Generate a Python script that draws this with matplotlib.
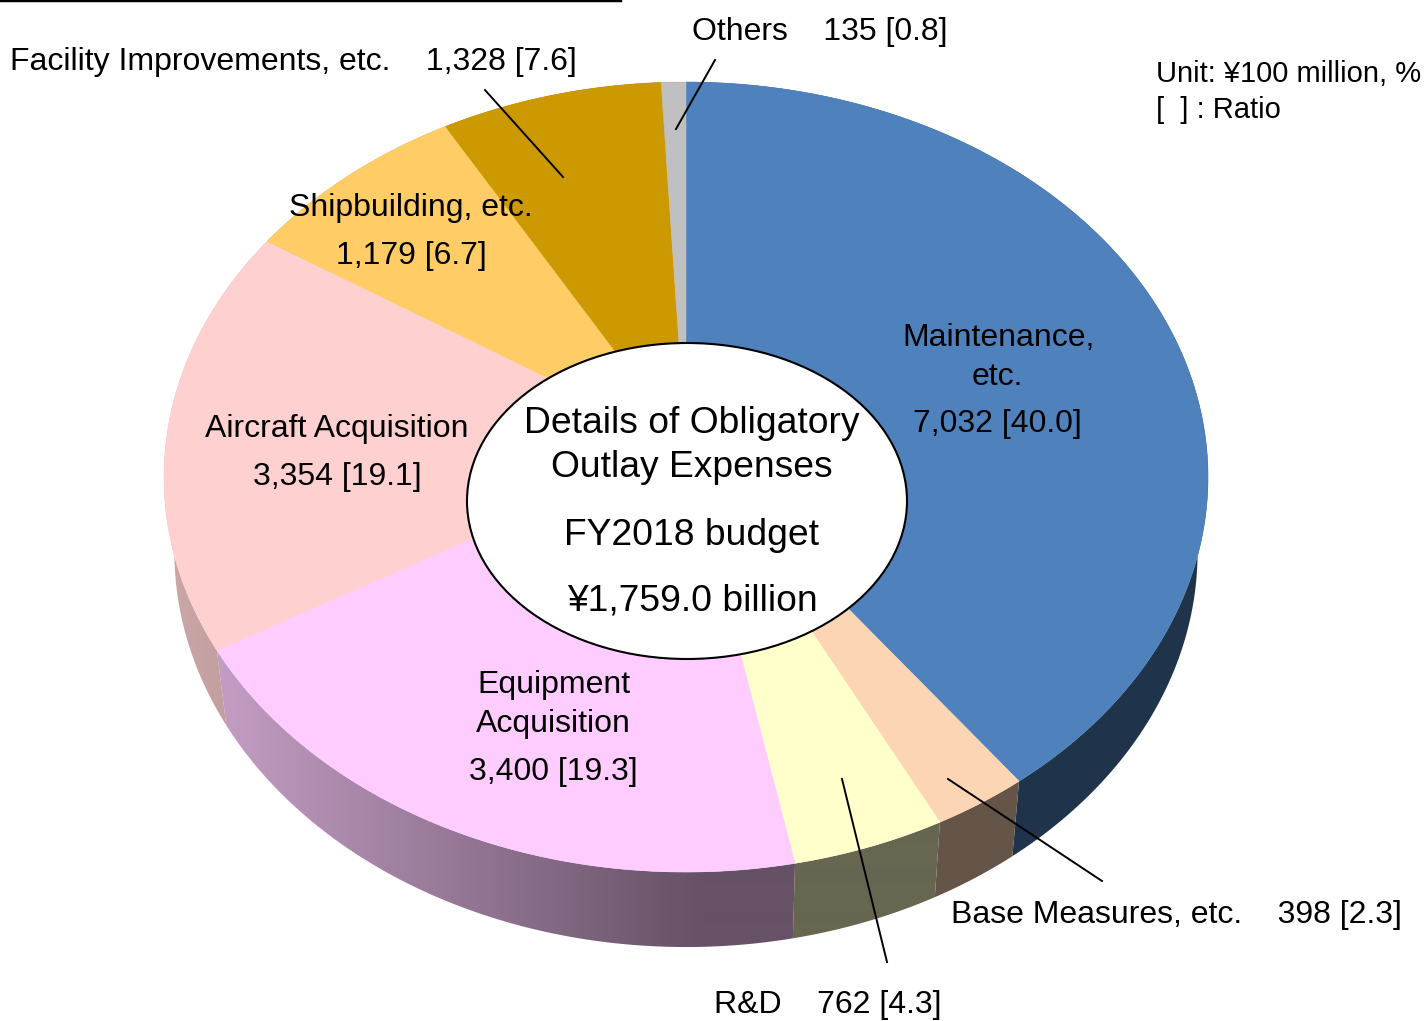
import numpy as np
import matplotlib
matplotlib.use('Agg')
import matplotlib.pyplot as plt
from matplotlib.patches import Polygon, Ellipse

plt.rcParams['font.family']=['Liberation Sans','DejaVu Sans']

#data, clockwise from the top
categories=['Maintenance, etc.','Base Measures, etc.','R&D','Equipment Acquisition','Aircraft Acquisition','Shipbuilding, etc.','Facility Improvements, etc.','Others']
values=[7032,398,762,3400,3354,1179,1328,135]
ratios=[40.0,2.3,4.3,19.3,19.1,6.7,7.6,0.8]
colors=['#4f81bd','#fcd5b5','#ffffcc','#ffccff','#ffd0d0','#ffcc66','#cc9900','#c0c0c0']

W,H=1427,1021
#projection of the disc
cx,cy=686,445
A,B,k=520.3,392.4,0.0811
depth=75
#the slices in the picture are not exactly to scale, degrees per boundary
edge_nudge=[0,-0.7,1.0,1.2,2.6,-3.1,0.3,-0.2,0]

def top(theta,r=1.0):
    w=1+k*np.cos(theta)
    return cx+r*A*np.sin(theta)/w, cy-r*B*np.cos(theta)/w

def bottom(theta):
    x,y=top(theta)
    return cx+0.98*(x-cx), y+depth

fig=plt.figure(figsize=(W/100,H/100),dpi=100)
ax=fig.add_axes([0,0,1,1])

edges=np.concatenate([[0],np.cumsum(values)])/np.sum(values)*2*np.pi+np.radians(edge_nudge)

#side gets darker going right, flat after the middle
xs=np.arange(W)
light=np.interp(xs,[170,230,700,1300],[0.80,0.76,0.40,0.40])

#side wall, a gradient clipped to each slice
for i in range(len(values)):
    th=np.linspace(edges[i],edges[i+1],200)
    x0,y0=top(th)
    x1,y1=bottom(th)
    poly=Polygon(list(zip(x0,y0))+list(zip(x1[::-1],y1[::-1])),closed=True,fc='none',ec='none',transform=ax.transData)
    ax.add_patch(poly)
    img=np.outer(light,np.array(matplotlib.colors.to_rgb(colors[i])))[None,:,:]
    im=ax.imshow(img,extent=(0,W,H,0),aspect='auto',interpolation='bilinear',zorder=1)
    im.set_clip_path(poly)

ax.set_xlim(0,W)
ax.set_ylim(H,0)
ax.axis('off')

#top face
for i in range(len(values)):
    th=np.linspace(edges[i],edges[i+1],200)
    x,y=top(th)
    pts=[(cx,cy)]+list(zip(x,y))
    ax.add_patch(Polygon(pts,closed=True,fc=colors[i],ec=colors[i],lw=0.4,zorder=2))

#centre hole
ax.add_patch(Ellipse((687,501),440,316,fc='white',ec='black',lw=1.5,zorder=3))

#leader lines
leaders=[((485,90),(563,177)),((715,60),(676,129)),((948,779),(1102,881)),((842,779),(887,962))]
for p,q in leaders:
    ax.plot([p[0],q[0]],[p[1],q[1]],color='black',lw=1.4,zorder=4)
ax.plot([0,620],[0,0],color='black',lw=2.5,zorder=4)

def label(x,y,s,size=23.0):
    ax.text(x,y+2,s,fontsize=size,ha='center',va='center',color='black',zorder=5)

def amount(i):
    return f'{values[i]:,} [{ratios[i]:.1f}]'

label(999,336,'Maintenance,')
label(997,375,'etc.')
label(997,422,amount(0))
label(1176,913,'Base Measures, etc.    '+amount(1))
label(827.5,1003,'R&D    '+amount(2))
label(554,683,'Equipment')
label(553,722,'Acquisition')
label(553,770,amount(3))
label(337,427,'Aircraft Acquisition')
label(337,475,amount(4))
label(411,206,'Shipbuilding, etc.')
label(411,254,amount(5))
label(293.5,60,'Facility Improvements, etc.    '+amount(6))
label(819.5,30,'Others    '+amount(7))
ax.text(1156,74,'Unit: ¥100 million, %',fontsize=21,ha='left',va='center',zorder=5)
ax.text(1156,110,'[  ] : Ratio',fontsize=21,ha='left',va='center',zorder=5)

label(692,421,'Details of Obligatory',26.8)
label(692,465,'Outlay Expenses',26.8)
label(692,533,'FY2018 budget',26.8)
label(692,599,'¥1,759.0 billion',26.8)

fig.savefig('out.png',dpi=100)
